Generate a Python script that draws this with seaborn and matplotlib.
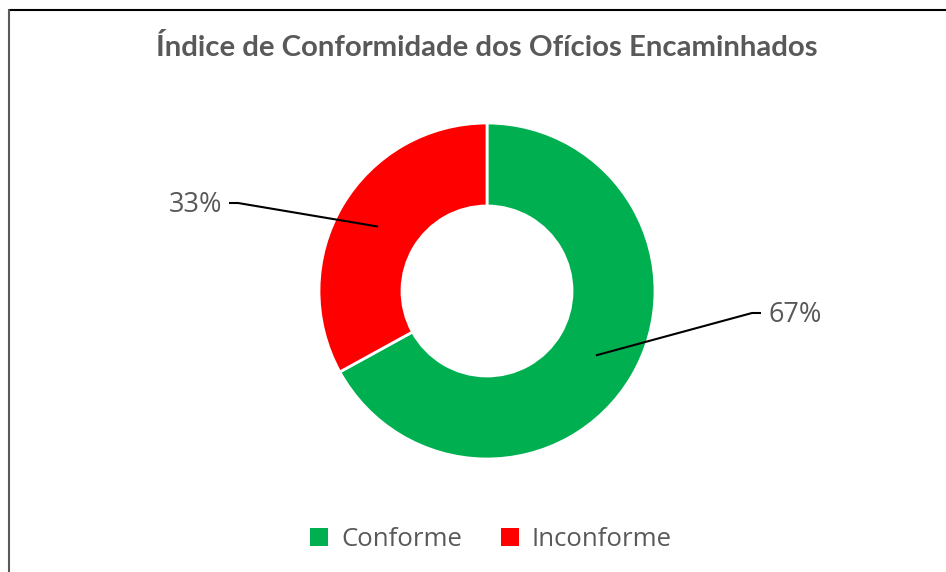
import numpy as np
import seaborn as sns
import matplotlib.pyplot as plt
from matplotlib.patches import Patch

# Conformity of forwarded letters
categories = ["Conforme", "Inconforme"]
values = [67, 33]
labels = ["67%", "33%"]
colors = ["#00B050", "#FF0000"]

sns.set_theme(style="white")
plt.rcParams["font.family"] = ["Open Sans", "DejaVu Sans"]
text_gray = "#595959"

W, H = 946, 572
fig = plt.figure(figsize=(W / 100, H / 100), dpi=100)
ax = fig.add_axes([0, 0, 1, 1])

cx, cy, R = 487, 281, 168
ring = 83
wedges, _ = ax.pie(values, colors=colors, startangle=90, counterclock=False,
                   center=(cx, cy), radius=R,
                   wedgeprops=dict(width=ring, edgecolor="white", linewidth=2))
ax.set_xlim(0, W)
ax.set_ylim(0, H)
ax.set_aspect("equal")
ax.axis("off")

# leader lines + labels (label placement offsets from the centre)
label_pos = [(265, -22), (-249, 88)]
for w, lab, (ox, oy) in zip(wedges, labels, label_pos):
    ang = np.deg2rad((w.theta1 + w.theta2) / 2)
    rm = R - ring / 2
    ax0, ay0 = cx + rm * np.cos(ang), cy + rm * np.sin(ang)
    side = 1 if ox > 0 else -1
    ex, ey = cx + ox, cy + oy
    ax.plot([ax0, ex, ex + side * 9], [ay0, ey, ey], color="black", lw=1.5,
            solid_capstyle="butt")
    ax.text(ex + side * 16, ey - 2, lab, ha="left" if side > 0 else "right",
            va="center", fontsize=19.5, color=text_gray)

fig.text(487 / W, 1 - 48 / H, "Índice de Conformidade dos Ofícios Encaminhados",
         ha="center", va="center", fontsize=21.2, fontweight="bold",
         color=text_gray, family=["Lato", "DejaVu Sans"])

handles = [Patch(facecolor=c, edgecolor="none") for c in colors]
ax.legend(handles, categories, loc="center", bbox_to_anchor=(491 / W, 33 / H),
          bbox_transform=fig.transFigure, ncol=2, frameon=False, fontsize=18.5,
          handlelength=0.7, handleheight=0.7, handletextpad=0.5,
          columnspacing=1.5, labelcolor=text_gray)

# chart frame edges visible in the crop
fig.add_artist(plt.Line2D([9 / W, 1], [1 - 10 / H, 1 - 10 / H], color="black", lw=1.5))
fig.add_artist(plt.Line2D([9 / W, 9 / W], [0, 1 - 10 / H], color="#595959", lw=1.5))

fig.savefig("out.png", dpi=100, facecolor="white")
